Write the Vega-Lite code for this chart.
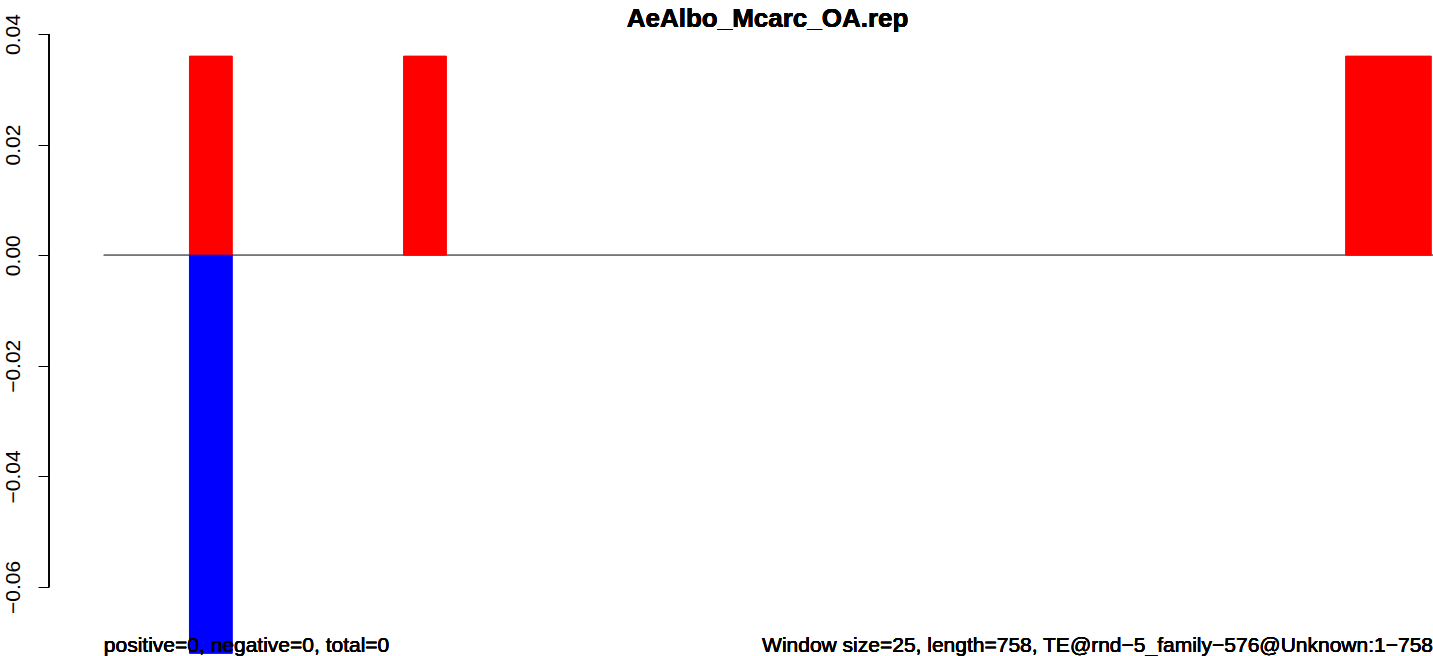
{
  "$schema": "https://vega.github.io/schema/vega-lite/v6.json",
  "width": 1384,
  "height": 622,
  "autosize": {"type": "none"},
  "padding": {"left": 49, "top": 34, "right": 0, "bottom": 0},
  "background": "white",
  "config": {
    "view": {"stroke": null},
    "font": "Liberation Sans"
  },
  "data": {
    "values": [
      {"start": 50, "end": 75, "score": 0.036, "strand": "positive"},
      {"start": 50, "end": 75, "score": -0.072, "strand": "negative"},
      {"start": 175, "end": 200, "score": 0.036, "strand": "positive"},
      {"start": 725, "end": 750, "score": 0.036, "strand": "positive"},
      {"start": 750, "end": 775, "score": 0.036, "strand": "positive"}
    ]
  },
  "layer": [
    {
      "mark": {"type": "rule", "color": "#777777", "strokeWidth": 1},
      "encoding": {
        "x": {"datum": 0, "type": "quantitative", "scale": {"domain": [-32, 776], "nice": false, "zero": false}, "axis": null},
        "x2": {"datum": 776},
        "y": {
          "datum": 0,
          "type": "quantitative",
          "scale": {"domain": [-0.07248, 0.04], "nice": false, "zero": false},
          "axis": {
            "values": [-0.06, -0.04, -0.02, 0, 0.02, 0.04],
            "format": ".2f",
            "domain": false,
            "grid": false,
            "title": null,
            "ticks": true,
            "tickSize": 11,
            "tickColor": "black",
            "tickWidth": 1,
            "labelFont": "Liberation Sans",
            "labelFontSize": 21,
            "labelColor": "black",
            "labelAngle": 270,
            "labelAlign": "center",
            "labelBaseline": "alphabetic",
            "labelPadding": 19,
            "labelOverlap": false
          }
        }
      }
    },
    {
      "mark": {"type": "bar", "strokeWidth": 1},
      "encoding": {
        "x": {"field": "start", "type": "quantitative"},
        "x2": {"field": "end"},
        "y": {"field": "score", "type": "quantitative"},
        "y2": {"datum": 0},
        "color": {"field": "strand", "type": "nominal", "scale": {"domain": ["positive", "negative"], "range": ["#ff0000", "#0000ff"]}, "legend": null},
        "stroke": {"field": "strand", "type": "nominal", "scale": {"domain": ["positive", "negative"], "range": ["#ff0000", "#0000ff"]}, "legend": null}
      }
    },
    {
      "mark": {"type": "rule", "color": "black", "strokeWidth": 1},
      "encoding": {
        "x": {"datum": -32, "type": "quantitative"},
        "y": {"datum": 0.04, "type": "quantitative"},
        "y2": {"datum": -0.06}
      }
    },
    {
      "mark": {"type": "text", "align": "center", "baseline": "alphabetic", "dy": -7, "fontSize": 26, "fontWeight": "bold", "font": "Liberation Sans", "color": "black", "text": "AeAlbo_Mcarc_OA.rep"},
      "encoding": {
        "x": {"datum": 387.5, "type": "quantitative"},
        "y": {"datum": 0.04, "type": "quantitative"}
      }
    },
    {
      "mark": {"type": "text", "align": "left", "baseline": "alphabetic", "dy": 21, "fontSize": 21, "font": "Liberation Sans", "color": "black", "text": "positive=0, negative=0, total=0"},
      "encoding": {
        "x": {"datum": 0, "type": "quantitative"},
        "y": {"datum": -0.068, "type": "quantitative"}
      }
    },
    {
      "mark": {"type": "text", "align": "right", "baseline": "alphabetic", "dy": 21, "fontSize": 21, "font": "Liberation Sans", "color": "black", "text": "Window size=25, length=758, TE@rnd−5_family−576@Unknown:1−758"},
      "encoding": {
        "x": {"datum": 776, "type": "quantitative"},
        "y": {"datum": -0.068, "type": "quantitative"}
      }
    }
  ]
}
